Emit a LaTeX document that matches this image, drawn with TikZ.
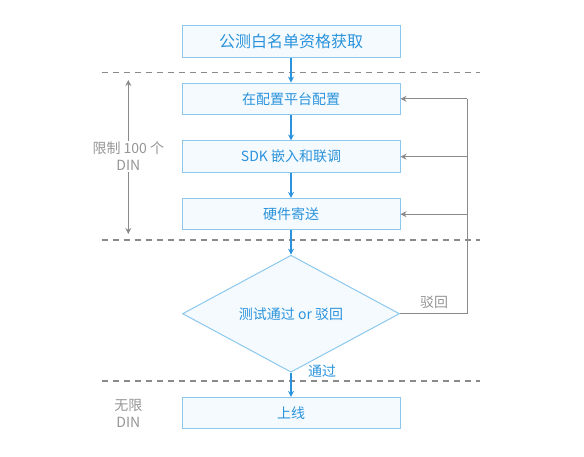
\documentclass[tikz,border=0pt]{standalone}
\usepackage{fontspec}
\setmainfont{Noto Sans CJK SC}
\usetikzlibrary{shapes.geometric,arrows.meta}
\definecolor{bluetxt}{HTML}{2A93DC}
\definecolor{bluebd}{HTML}{8CC8EE}
\definecolor{bluefill}{HTML}{F5FAFE}
\definecolor{graylc}{HTML}{8A8A8A}
\definecolor{graytxt}{HTML}{959595}
\begin{document}
\begin{tikzpicture}[x=1pt,y=-1pt,
  every node/.style={font=\fontsize{14}{17}\selectfont},
  stepbox/.style={draw=bluebd,fill=bluefill,line width=1pt,minimum width=218pt,minimum height=31.5pt,inner sep=0pt,text=bluetxt},
  decision/.style={diamond,draw=bluebd,fill=bluefill,line width=1pt,minimum width=217pt,minimum height=114pt,inner sep=0pt,text=bluetxt},
  flow/.style={draw=bluetxt,line width=1.3pt,-{Stealth[length=6pt,width=6pt]}},
  back/.style={draw=graylc,line width=1.2pt,-{Stealth[length=6pt,width=6pt]}},
  sep/.style={draw=graylc,line width=1.2pt,dash pattern=on 6pt off 5pt},
  side/.style={text=graytxt,align=center,inner sep=1pt}]
\useasboundingbox (0,0) rectangle (584,457);
% separators
\coordinate (s1l) at (101.7,72.7); \coordinate (s1r) at (480,72.7);
\coordinate (s2l) at (101.7,240); \coordinate (s2r) at (480,240);
\coordinate (s3l) at (101.7,381); \coordinate (s3r) at (480,381);
\draw[sep] (s1l) -- (s1r);
\draw[sep] (s2l) -- (s2r);
\draw[sep] (s3l) -- (s3r);
% nodes
\node[stepbox,font=\fontsize{16}{19}\selectfont] (b1) at (291,41.5) {公测白名单资格获取};
\node[stepbox] (b2) at (291,98.8) {在配置平台配置};
\node[stepbox] (b3) at (291,156.7) {SDK 嵌入和联调};
\node[stepbox] (b4) at (291,214.2) {硬件寄送};
\node[decision] (d) at (291,313.7) {测试通过 or 驳回};
\node[stepbox] (b5) at (291,413.2) {上线};
% flow
\draw[flow] (b1) -- (b2);
\draw[flow] (b2) -- (b3);
\draw[flow] (b3) -- (b4);
\draw[flow] (b4) -- (d);
\draw[flow] (d) -- (b5);
\node[text=bluetxt,inner sep=0pt] (pass) at (322,371) {通过};
% feedback
\coordinate (r0) at (467.3,313.7);
\coordinate (r2) at (467.3,98.8);
\coordinate (r3) at (467.3,156.7);
\coordinate (r4) at (467.3,214.2);
\draw[draw=graylc,line width=1.2pt] (d.east) -- (r0) -- (r2);
\draw[back] (r2) -- (b2.east);
\draw[back] (r3) -- (b3.east);
\draw[back] (r4) -- (b4.east);
\node[text=graytxt,inner sep=0pt] (rej) at (434,302.5) {驳回};
% left labels
\node[side] (lim) at (128.3,156.5) {限制 100 个\\DIN};
\coordinate (lt) at (128.3,80);
\coordinate (lb) at (128.3,234);
\draw[back] (lim.north) -- (lt);
\draw[back] (lim.south) -- (lb);
\node[side] (unl) at (128.3,413.5) {无限\\DIN};
\end{tikzpicture}
\end{document}
